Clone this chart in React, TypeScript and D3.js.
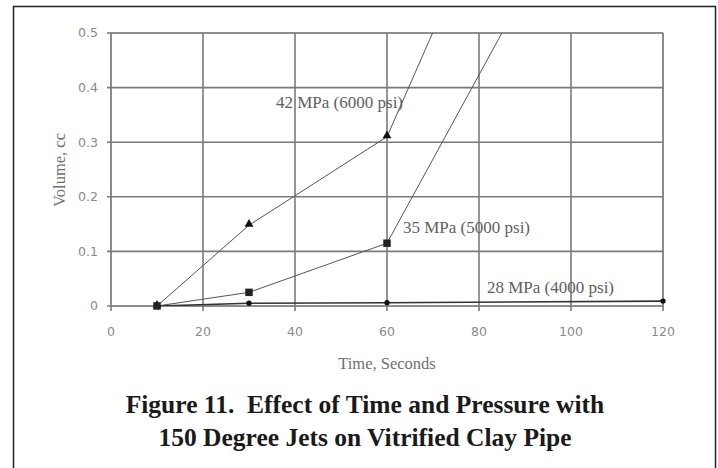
import React from "react";
import * as d3 from "d3";

// Volume removed (cc) vs. exposure time (s) for three jet pressures
const timeSeconds = [10, 30, 60, 120];
const volume42MPa = [0, 0.148, 0.31, 1.46];
const volume35MPa = [0, 0.025, 0.115, 1.04];
const volume28MPa = [0, 0.005, 0.006, 0.009];

const xTicks = [0, 20, 40, 60, 80, 100, 120];
const yTicks = [0, 0.1, 0.2, 0.3, 0.4, 0.5];

const seriesLabels = ["42 MPa (6000 psi)", "35 MPa (5000 psi)", "28 MPa (4000 psi)"];
const titleLines = [
  "Figure 11.\u00a0 Effect of Time and Pressure with",
  "150 Degree Jets on Vitrified Clay Pipe",
];

const W = 718;
const H = 468;
const plot = { left: 111, right: 663, top: 33, bottom: 306 };

export default function App() {
  const x = d3.scaleLinear().domain([0, 120]).range([plot.left, plot.right]);
  const y = d3.scaleLinear().domain([0, 0.5]).range([plot.bottom, plot.top]);

  const line = d3
    .line<[number, number]>()
    .x((d) => x(d[0]))
    .y((d) => y(d[1]));

  const pts = (vals: number[]) => timeSeconds.map((t, i) => [t, vals[i]] as [number, number]);
  const s42 = pts(volume42MPa);
  const s35 = pts(volume35MPa);
  const s28 = pts(volume28MPa);

  const tri = d3.symbol().type(d3.symbolTriangle).size(34)() as string;
  const sq = d3.symbol().type(d3.symbolSquare).size(56)() as string;
  const dot = d3.symbol().type(d3.symbolCircle).size(22)() as string;

  const gridColor = "#7a7a7a";
  const tickFont = "'DejaVu Sans', Verdana, sans-serif";
  const serif = "'Liberation Serif', 'Times New Roman', serif";

  return (
    <svg
      width={W}
      height={H}
      style={{ position: "absolute", left: 0, top: 0, background: "#fff" }}
    >
      <defs>
        <clipPath id="plotClip">
          <rect x={plot.left} y={plot.top} width={plot.right - plot.left} height={plot.bottom - plot.top} />
        </clipPath>
      </defs>

      {/* outer frame */}
      <rect x={13.5} y={6.5} width={702} height={480} fill="none" stroke="#222" strokeWidth={1.5} />

      {/* plot border */}
      <rect
        x={plot.left}
        y={plot.top}
        width={plot.right - plot.left}
        height={plot.bottom - plot.top}
        fill="none"
        stroke="#a8a8a8"
        strokeWidth={1.2}
      />

      {/* gridlines */}
      {yTicks.map((v) => (
        <line key={"gy" + v} x1={plot.left - 4} x2={plot.right} y1={y(v)} y2={y(v)} stroke={gridColor} strokeWidth={1.6} />
      ))}
      {xTicks.map((v) => (
        <line key={"gx" + v} x1={x(v)} x2={x(v)} y1={plot.top} y2={plot.bottom + 5} stroke={gridColor} strokeWidth={1.6} />
      ))}

      {/* tick labels */}
      {yTicks.map((v) => (
        <text
          key={"ty" + v}
          x={plot.left - 13}
          y={y(v)}
          dy="0.35em"
          textAnchor="end"
          fontFamily={tickFont}
          fontSize={12.5}
          fill="#8a8a8a"
        >
          {v === 0 ? "0" : d3.format(".1f")(v)}
        </text>
      ))}
      {xTicks.map((v) => (
        <text
          key={"tx" + v}
          x={x(v)}
          y={plot.bottom + 26}
          dy="0.35em"
          textAnchor="middle"
          fontFamily={tickFont}
          fontSize={12.5}
          fill="#8a8a8a"
        >
          {v}
        </text>
      ))}

      {/* axis titles */}
      <text x={387} y={363} dy="0.35em" textAnchor="middle" fontFamily={serif} fontSize={16.5} fill="#707070">
        Time, Seconds
      </text>
      <text
        transform={`translate(59, 170) rotate(-90)`}
        dy="0.35em"
        textAnchor="middle"
        fontFamily={serif}
        fontSize={16.5}
        fill="#707070"
      >
        Volume, cc
      </text>

      {/* series lines */}
      <g clipPath="url(#plotClip)" fill="none">
        <path d={line(s42) as string} stroke="#555" strokeWidth={1} />
        <path d={line(s35) as string} stroke="#555" strokeWidth={1} />
        <path d={line(s28) as string} stroke="#333" strokeWidth={1.6} />
      </g>

      {/* markers */}
      {s42.filter((d) => d[1] <= 0.5).map((d, i) => (
        <path key={"m42" + i} d={tri} transform={`translate(${x(d[0])},${y(d[1]) - 1})`} fill="#111" />
      ))}
      {s28.filter((d, i) => i > 0 && d[1] <= 0.5).map((d, i) => (
        <path key={"m28" + i} d={dot} transform={`translate(${x(d[0])},${y(d[1])})`} fill="#111" />
      ))}
      {s35.filter((d) => d[1] <= 0.5).map((d, i) => (
        <path key={"m35" + i} d={sq} transform={`translate(${x(d[0])},${y(d[1])})`} fill="#222" />
      ))}

      {/* series labels */}
      <text x={276} y={102} dy="0.35em" fontFamily={serif} fontSize={17} fill="#606060">
        {seriesLabels[0]}
      </text>
      <text x={403} y={227} dy="0.35em" fontFamily={serif} fontSize={17} fill="#606060">
        {seriesLabels[1]}
      </text>
      <text x={487} y={287} dy="0.35em" fontFamily={serif} fontSize={17} fill="#606060">
        {seriesLabels[2]}
      </text>

      {/* caption */}
      {titleLines.map((t, i) => (
        <text
          key={"title" + i}
          x={365}
          y={413 + i * 33}
          textAnchor="middle"
          fontFamily={serif}
          fontWeight="bold"
          fontSize={25.5}
          fill="#1a1a1a"
        >
          {t}
        </text>
      ))}
    </svg>
  );
}
